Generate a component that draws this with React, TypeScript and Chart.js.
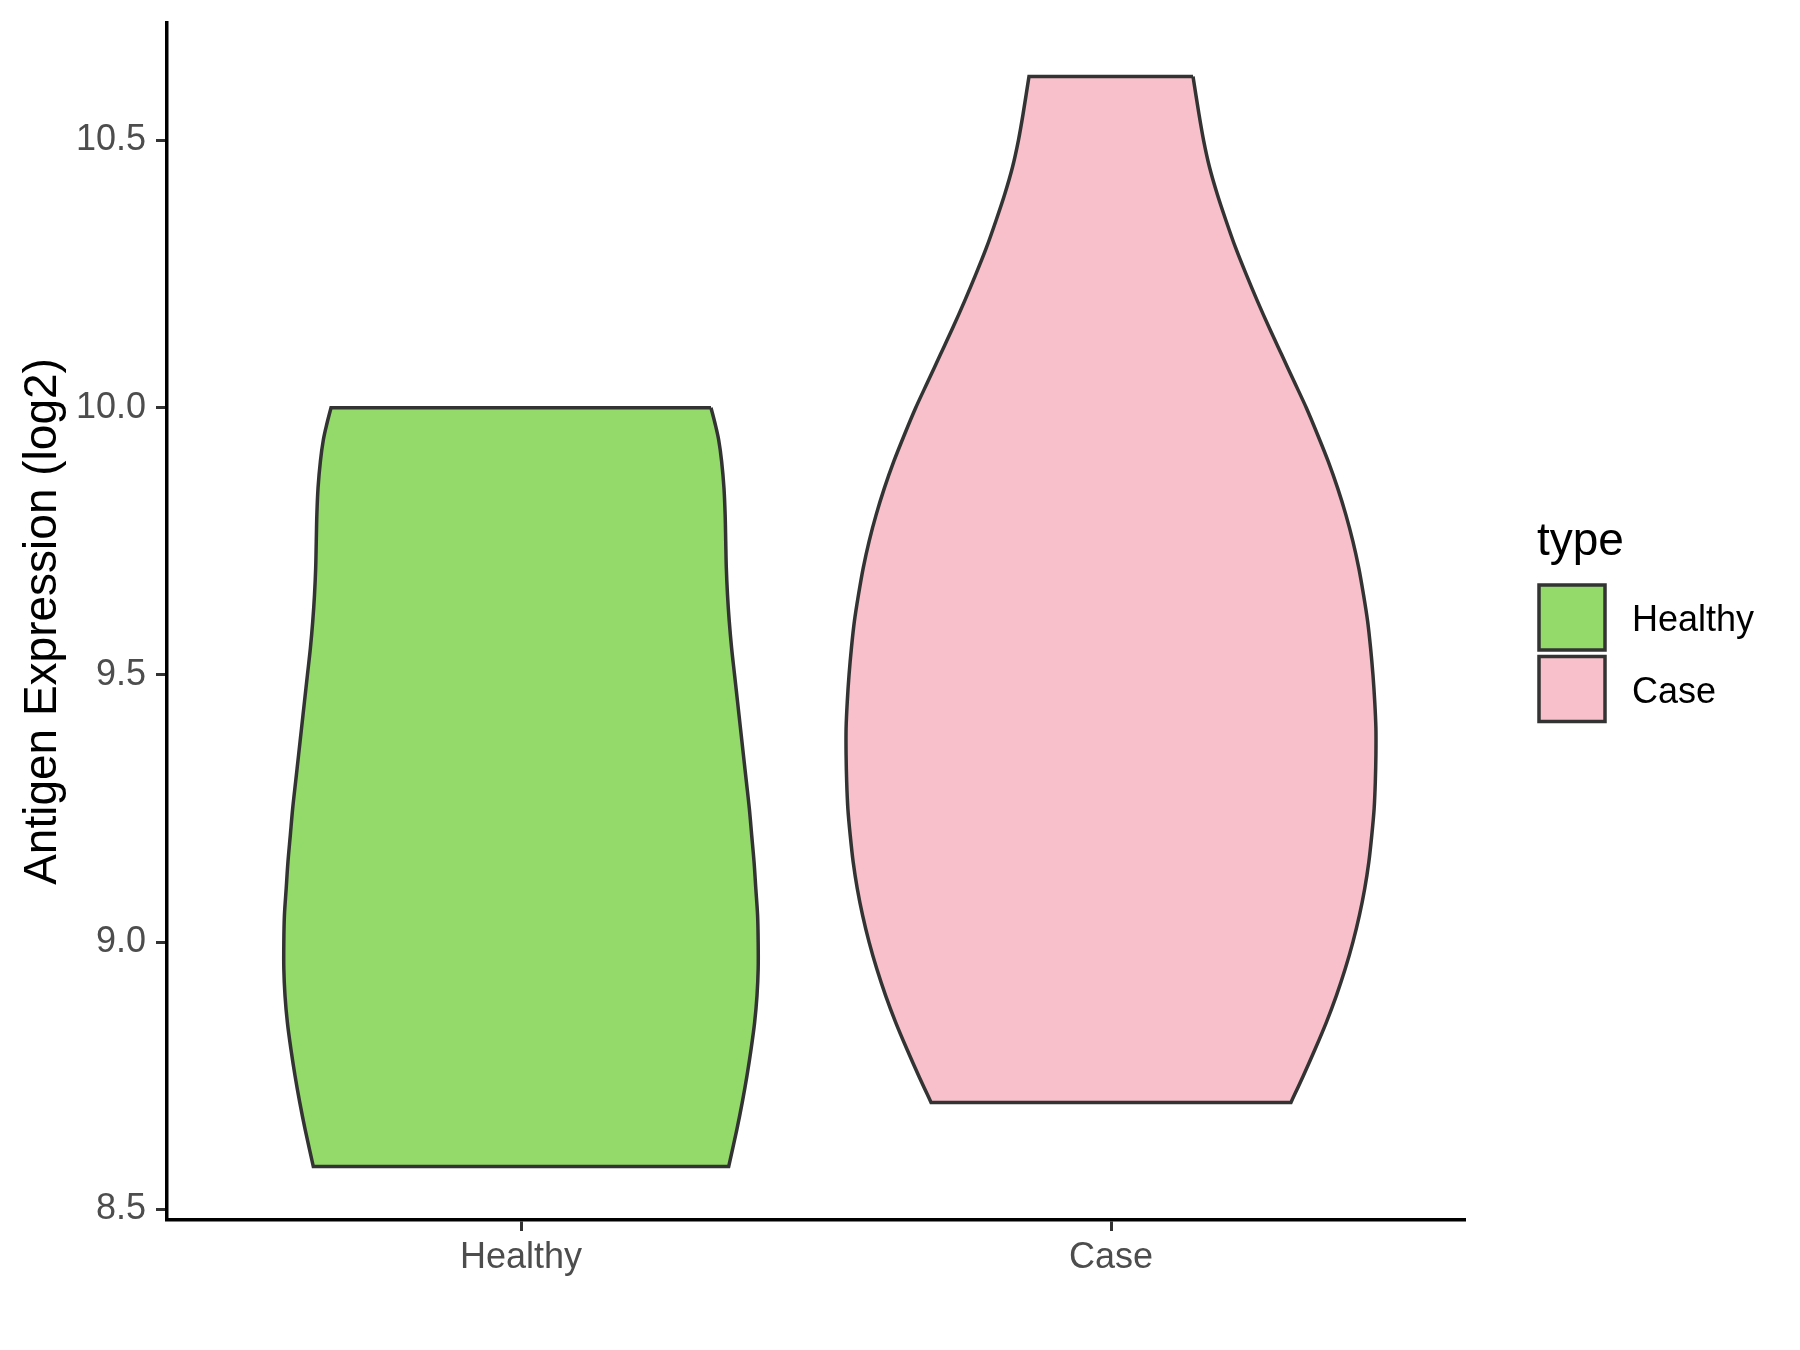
import React, { useEffect, useRef } from "react";
import { Chart, registerables } from "chart.js";

Chart.register(...registerables);

// ---------- data ----------
const categories = ["Healthy", "Case"];
const categoryCenters = [1, 2];
const fillColors = ["#93DA6B", "#F7C0CB"];
const outlineColor = "#333333";

// Healthy violin: expression values (log2) and half-width of the density outline (x units)
const healthyValues = [10.0, 9.97, 9.94, 9.9, 9.85, 9.8, 9.75, 9.7, 9.65, 9.6, 9.55, 9.5, 9.45, 9.4, 9.35, 9.3, 9.25, 9.2, 9.15, 9.1, 9.05, 9.0, 8.95, 8.9, 8.85, 8.8, 8.75, 8.7, 8.65, 8.58];
const healthyHalfWidths = [0.322, 0.329, 0.335, 0.34, 0.344, 0.346, 0.347, 0.348, 0.35, 0.353, 0.357, 0.362, 0.367, 0.372, 0.377, 0.382, 0.387, 0.391, 0.395, 0.398, 0.401, 0.402, 0.402, 0.4, 0.396, 0.39, 0.383, 0.375, 0.366, 0.352];

// Case violin
const caseValues = [10.62, 10.55, 10.5, 10.45, 10.4, 10.35, 10.3, 10.25, 10.2, 10.15, 10.1, 10.05, 10.0, 9.95, 9.9, 9.85, 9.8, 9.75, 9.7, 9.65, 9.6, 9.55, 9.5, 9.45, 9.4, 9.35, 9.3, 9.25, 9.2, 9.15, 9.1, 9.05, 9.0, 8.95, 8.9, 8.85, 8.8, 8.75, 8.7];
const caseHalfWidths = [0.139, 0.149, 0.157, 0.167, 0.18, 0.195, 0.211, 0.229, 0.248, 0.268, 0.289, 0.31, 0.331, 0.35, 0.368, 0.384, 0.398, 0.41, 0.42, 0.428, 0.435, 0.44, 0.444, 0.447, 0.449, 0.449, 0.448, 0.446, 0.442, 0.437, 0.43, 0.421, 0.41, 0.397, 0.382, 0.365, 0.346, 0.326, 0.305];

const yTicks = [8.5, 9.0, 9.5, 10.0, 10.5];
const yMin = 8.48;
const yMax = 10.72;
const xMin = 0.4;
const xMax = 2.6;

const yTitle = "Antigen Expression (log2)";
const legendTitle = "type";

const FONT = '"Liberation Sans", Arial, Helvetica, sans-serif';

// Closed outline: right side top->bottom, left side bottom->top, back to the start.
// Corner points are repeated so the spline keeps sharp corners at the flat ends.
function violinOutline(center: number, values: number[], halfWidths: number[]) {
  const n = values.length;
  const right = values.map((v, i) => ({ x: center + halfWidths[i], y: v }));
  const left = values.map((v, i) => ({ x: center - halfWidths[i], y: v })).reverse();
  return [right[0], ...right, right[n - 1], left[0], ...left, left[n - 1], right[0]];
}

const ggLegend = {
  id: "ggLegend",
  afterDraw(chart: any) {
    const ctx = chart.ctx as CanvasRenderingContext2D;
    const x0 = chart.chartArea.right + 72;
    const midY = chart.height / 2;
    ctx.save();
    ctx.textAlign = "left";
    ctx.textBaseline = "alphabetic";
    ctx.fillStyle = "#000000";
    ctx.font = `46px ${FONT}`;
    ctx.fillText(legendTitle, x0, midY - 120);
    const keySize = 66;
    const keyStep = 71.5;
    categories.forEach((label, i) => {
      const top = midY - 90 + i * keyStep;
      ctx.fillStyle = fillColors[i];
      ctx.fillRect(x0 + 2, top, keySize, keySize - 1);
      ctx.strokeStyle = outlineColor;
      ctx.lineWidth = 3.5;
      ctx.lineJoin = "miter";
      ctx.strokeRect(x0 + 2, top, keySize, keySize - 1);
      ctx.fillStyle = "#000000";
      ctx.font = `36px ${FONT}`;
      ctx.fillText(label, x0 + 95, top + keySize / 2 + 13);
    });
    ctx.restore();
  },
};

export default function App() {
  const canvasRef = useRef<HTMLCanvasElement | null>(null);

  useEffect(() => {
    const canvas = canvasRef.current;
    if (!canvas) return;
    Chart.defaults.font.family = FONT;

    const datasets = [
      { values: healthyValues, widths: healthyHalfWidths },
      { values: caseValues, widths: caseHalfWidths },
    ].map((d, i) => ({
      label: categories[i],
      data: violinOutline(categoryCenters[i], d.values, d.widths),
      fill: "shape" as any,
      backgroundColor: fillColors[i],
      borderColor: outlineColor,
      borderWidth: 3.5,
      borderJoinStyle: "miter" as const,
      tension: 0.33,
      pointRadius: 0,
      pointHoverRadius: 0,
    }));

    const chart = new Chart(canvas, {
      type: "line",
      data: { datasets },
      options: {
        animation: false,
        responsive: false,
        events: [],
        layout: { padding: { left: 0, top: 23, right: 335, bottom: 0 } },
        plugins: {
          legend: { display: false },
          tooltip: { enabled: false },
        },
        scales: {
          x: {
            type: "linear",
            position: "bottom",
            min: xMin,
            max: xMax,
            afterBuildTicks: (s: any) => {
              s.ticks = categoryCenters.map((v) => ({ value: v }));
            },
            afterFit: (s: any) => {
              s.height = 130;
              s.paddingLeft = 0;
              s.paddingRight = 0;
            },
            ticks: {
              callback: (v: any) => categories[categoryCenters.indexOf(Number(v))] ?? "",
              font: { size: 36 },
              color: "#4D4D4D",
              padding: 5,
              autoSkip: false,
              maxRotation: 0,
              minRotation: 0,
            },
            grid: {
              drawOnChartArea: false,
              drawTicks: true,
              tickLength: 11,
              tickColor: "#333333",
              tickWidth: 3,
              color: "#333333",
            },
            border: { display: true, color: "#000000", width: 3.5 },
          },
          y: {
            type: "linear",
            position: "left",
            min: yMin,
            max: yMax,
            afterBuildTicks: (s: any) => {
              s.ticks = yTicks.map((v) => ({ value: v }));
            },
            afterFit: (s: any) => {
              s.width = 167;
              s.paddingTop = 0;
              s.paddingBottom = 0;
            },
            ticks: {
              callback: (v: any) => Number(v).toFixed(1),
              font: { size: 36 },
              color: "#4D4D4D",
              padding: 10,
            },
            grid: {
              drawOnChartArea: false,
              drawTicks: true,
              tickLength: 11,
              tickColor: "#333333",
              tickWidth: 3,
              color: "#333333",
            },
            border: { display: true, color: "#000000", width: 3.5 },
            title: {
              display: true,
              text: yTitle,
              color: "#000000",
              font: { size: 46, lineHeight: 1 },
              padding: { top: 20, bottom: 0 },
            },
          },
        },
      },
      plugins: [ggLegend],
    });

    return () => chart.destroy();
  }, []);

  return (
    <div style={{ position: "absolute", left: 0, top: 0, width: 1800, height: 1350, background: "#ffffff" }}>
      <canvas ref={canvasRef} width={1800} height={1350} style={{ width: 1800, height: 1350, display: "block" }} />
    </div>
  );
}
